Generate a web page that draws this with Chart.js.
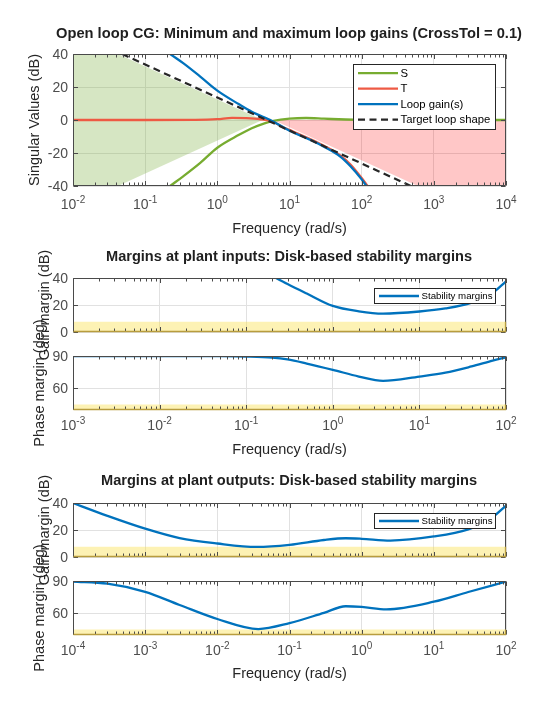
<!DOCTYPE html>
<html>
<head>
<meta charset="utf-8">
<script src="https://cdn.jsdelivr.net/npm/chart.js"></script>
<style>
  body { margin: 0; background: #fff; }
  #fig { position: relative; width: 560px; height: 714px; }
  #fig canvas { position: absolute; left: 0; top: 0; }
</style>
</head>
<body>
<div id="fig">
  <canvas id="loopCG" width="560" height="714"></canvas>
  <canvas id="inGain" width="560" height="714"></canvas>
  <canvas id="inPhase" width="560" height="714"></canvas>
  <canvas id="outGain" width="560" height="714"></canvas>
  <canvas id="outPhase" width="560" height="714"></canvas>
</div>
<script>
// ---- open loop CG: singular values ----
const loopFreqTicks = [1e-2, 1e-1, 1e0, 1e1, 1e2, 1e3, 1e4];
const loopDbTicks = [-40, -20, 0, 20, 40];

// shaded regions: minimum gain (green) and maximum gain (red)
const minGainFreq = [0.01, 0.01, 0.042, 4.2, 0.042];
const minGainDb = [-40, 40, 40, 0, -40];
const maxGainFreq = [6, 1e4, 1e4, 600];
const maxGainDb = [0, 0, -40, -40];

const sFreq = [0.18, 0.222, 0.34, 0.58, 1, 2, 3, 4.5, 6, 10, 17, 30, 60, 100, 300, 1e4];
const sDb = [-43, -40, -34, -26, -16.8, -9, -5, -2, -0.5, 0.8, 1.2, 0.8, 0.3, 0.1, 0, 0];

const tFreq = [0.01, 0.1, 0.5, 1, 1.6, 2.5, 4, 5.75, 8, 10, 20, 30, 50, 70, 100, 130];
const tDb = [0, 0, 0.1, 0.5, 1.3, 1.1, 0.4, -0.8, -4.2, -6, -11.8, -15.6, -21.3, -27, -35.2, -42];

const loopFreq = [0.18, 0.222, 0.34, 0.58, 1, 2, 3, 5.75, 10, 20, 30, 50, 70, 100, 130];
const loopDb = [43, 40, 34.3, 26.3, 17.8, 9.5, 5, -0.6, -6.5, -12.3, -16.2, -22, -28, -36, -43];

const targetFreq = [0.048, 480];
const targetDb = [40, -40];

// ---- margins (shared) ----
const gainRange = [0, 40];
const gainTicks = [0, 20, 40];
const phaseRange = [40, 90];
const phaseTicks = [60, 90];
const minGmDb = [7.6, 7.6];
const minPmDeg = [45, 45];

// ---- margins at plant inputs ----
const inFreqTicks = [1e-3, 1e-2, 1e-1, 1e0, 1e1, 1e2];
const inGmFreq = [0.17, 0.221, 0.3, 0.5, 1, 2, 3.8, 10, 20, 40, 70, 100];
const inGmDb = [44, 40, 35.5, 28.5, 19.3, 15.3, 13.6, 15.2, 17.5, 21.8, 29, 37.5];
const inPmFreq = [0.001, 0.01, 0.05, 0.1, 0.2, 0.3, 0.5, 1, 2, 3.8, 10, 20, 40, 70, 100];
const inPmDeg = [89.9, 89.9, 89.8, 89.5, 88.5, 86.8, 83, 77.2, 71, 67, 71, 74.5, 80.3, 85.7, 88.8];

// ---- margins at plant outputs ----
const outFreqTicks = [1e-4, 1e-3, 1e-2, 1e-1, 1e0, 1e1, 1e2];
const outGmFreq = [1e-4, 3e-4, 1e-3, 3e-3, 0.01, 0.035, 0.1, 0.3, 0.6, 1, 2.5, 10, 30, 60, 100];
const outGmDb = [40, 30.5, 21, 14, 10, 7.5, 9, 12.6, 13.9, 13.5, 12.2, 15.2, 20.5, 28, 38];
const outPmFreq = [1e-4, 3e-4, 1e-3, 3e-3, 0.01, 0.037, 0.1, 0.3, 0.6, 1, 2.2, 10, 30, 100];
const outPmDeg = [89.5, 87.5, 80, 67.8, 54.8, 45.5, 51, 60.5, 66.6, 66, 63.8, 70.8, 79.8, 89.4];

const W = 560, H = 714;
const FONT = '"Liberation Sans", Arial, Helvetica, sans-serif';
const AXIS = '#4a4a4a';
const BLUE = '#0072bd';

const pts = (xs, ys) => xs.map((x, i) => ({x: x, y: ys[i]}));

function text(ctx, str, x, y, s) {
  ctx.save();
  ctx.font = s.font;
  ctx.fillStyle = s.color || '#262626';
  ctx.textAlign = s.align || 'center';
  ctx.textBaseline = s.baseline || 'alphabetic';
  ctx.translate(x, y);
  if (s.rot) ctx.rotate(s.rot);
  if (s.width) ctx.scale(s.width / ctx.measureText(str).width, 1);
  ctx.fillText(str, 0, 0);
  ctx.restore();
}

// box, inner tick marks, legend and all axis texts
const decor = {
  id: 'decor',
  afterDatasetsDraw(chart, args, o) {
    const {ctx, chartArea: a, scales: {x, y}} = chart;
    const L = a.left + 0.5, R = a.right - 0.5, T = a.top + 0.5, B = a.bottom - 0.5;
    ctx.save();
    ctx.strokeStyle = AXIS;
    ctx.lineWidth = 1;
    ctx.beginPath();
    const d0 = Math.floor(Math.log10(x.min)), d1 = Math.ceil(Math.log10(x.max));
    for (let d = d0; d <= d1; d++) {
      for (let k = 1; k <= 9; k++) {
        const v = k * Math.pow(10, d);
        if (v < x.min * 0.999 || v > x.max * 1.001) continue;
        const px = Math.round(x.getPixelForValue(v)) + 0.5;
        const len = k === 1 ? 4.5 : 3;
        ctx.moveTo(px, B); ctx.lineTo(px, B - len);
        ctx.moveTo(px, T); ctx.lineTo(px, T + len);
      }
    }
    y.ticks.forEach(t => {
      const py = Math.round(y.getPixelForValue(t.value)) + 0.5;
      ctx.moveTo(L, py); ctx.lineTo(L + 4.5, py);
      ctx.moveTo(R, py); ctx.lineTo(R - 4.5, py);
    });
    ctx.rect(L, T, R - L, B - T);
    ctx.stroke();

    if (o.band !== undefined) {
      const bt = y.getPixelForValue(o.band);
      ctx.strokeStyle = '#b89d3e';
      ctx.lineWidth = 1.3;
      ctx.beginPath();
      ctx.moveTo(L, B); ctx.lineTo(R, B); ctx.lineTo(R, bt);
      ctx.stroke();
    }

    if (o.legend) {
      const lg = o.legend;
      const bx = Math.round(a.right - 10.7 - lg.w) + 0.5, by = Math.round(a.top + 10.3) + 0.5;
      ctx.fillStyle = '#fff';
      ctx.fillRect(bx, by, lg.w, lg.h);
      ctx.strokeStyle = '#262626';
      ctx.lineWidth = 1;
      ctx.strokeRect(bx, by, lg.w, lg.h);
      chart.data.datasets.filter(d => d.label).forEach((d, i) => {
        const yy = by + lg.first + i * lg.row;
        ctx.beginPath();
        ctx.setLineDash(d.borderDash || []);
        ctx.strokeStyle = d.borderColor;
        ctx.lineWidth = d.borderWidth;
        ctx.moveTo(bx + 4.5, yy); ctx.lineTo(bx + 44.5, yy);
        ctx.stroke();
        ctx.setLineDash([]);
        text(ctx, d.label, bx + 47, yy + 0.5, {font: lg.font + 'px ' + FONT, color: '#000', align: 'left', baseline: 'middle'});
      });
    }
    ctx.restore();
  },
  afterDraw(chart, args, o) {
    const {ctx, chartArea: a, scales: {x, y}} = chart;
    const cx = (a.left + a.right) / 2, cy = (a.top + a.bottom) / 2;
    y.ticks.forEach(t => {
      text(ctx, String(t.value), a.left - 5, y.getPixelForValue(t.value) + 1,
        {font: '14px ' + FONT, color: '#4d4d4d', align: 'right', baseline: 'middle'});
    });
    if (o.tickBase) {
      x.ticks.forEach(t => {
        const px = x.getPixelForValue(t.value);
        const e = String(Math.round(Math.log10(t.value)));
        ctx.font = '14px ' + FONT;
        const wb = ctx.measureText('10').width;
        ctx.font = '10px ' + FONT;
        const we = ctx.measureText(e).width;
        const s = px - (wb + we) / 2;
        text(ctx, '10', s, o.tickBase, {font: '14px ' + FONT, color: '#4d4d4d', align: 'left'});
        text(ctx, e, s + wb, o.tickBase - 6.5, {font: '10px ' + FONT, color: '#4d4d4d', align: 'left'});
      });
    }
    if (o.xTitle) text(ctx, 'Frequency (rad/s)', cx, o.xTitle, {font: '14.5px ' + FONT, color: '#262626'});
    if (o.yTitle) text(ctx, o.yTitle.text, o.yTitle.x, cy, {font: '14.5px ' + FONT, color: '#262626', rot: -Math.PI / 2});
    if (o.title) text(ctx, o.title.text, 289, o.title.y, {font: 'bold 14px ' + FONT, color: '#1f1f1f', width: o.title.width});
  }
};

function axesChart(id, box, xTicks, yRange, yTicks, datasets, deco) {
  const grid = {color: '#e1e1e1', lineWidth: 1, drawTicks: false};
  return new Chart(document.getElementById(id), {
    type: 'line',
    data: {datasets: datasets},
    options: {
      responsive: false,
      animation: false,
      events: [],
      layout: {autoPadding: false, padding: {left: box[0], top: box[1], right: W - box[2], bottom: H - box[3]}},
      elements: {point: {radius: 0}},
      plugins: {legend: {display: false}, tooltip: {enabled: false}, decor: deco},
      scales: {
        x: {
          type: 'logarithmic', min: xTicks[0], max: xTicks[xTicks.length - 1],
          afterBuildTicks: s => { s.ticks = xTicks.map(v => ({value: v})); },
          ticks: {display: false}, border: {display: false}, grid: grid
        },
        y: {
          type: 'linear', min: yRange[0], max: yRange[1],
          afterBuildTicks: s => { s.ticks = yTicks.map(v => ({value: v})); },
          ticks: {display: false}, border: {display: false}, grid: grid
        }
      }
    },
    plugins: [decor]
  });
}

function curve(label, xs, ys, color, order, extra) {
  return Object.assign({
    label: label, data: pts(xs, ys), borderColor: color, borderWidth: 2.3,
    cubicInterpolationMode: 'monotone', fill: false, order: order
  }, extra || {});
}

function region(xs, ys, color, order) {
  return {data: pts(xs, ys), borderWidth: 0, borderColor: 'rgba(0,0,0,0)', backgroundColor: color,
    fill: 'shape', tension: 0, order: order};
}

function band(xTicks, ys, order) {
  return {data: pts([xTicks[0], xTicks[xTicks.length - 1]], ys), borderWidth: 0, borderColor: 'rgba(0,0,0,0)',
    backgroundColor: 'rgba(250,222,68,0.4)', fill: 'start', tension: 0, order: order};
}

// top axes
axesChart('loopCG', [73, 54, 506, 186], loopFreqTicks, [-40, 40], loopDbTicks, [
  region(minGainFreq, minGainDb, 'rgba(118,172,55,0.3)', 6),
  region(maxGainFreq, maxGainDb, 'rgba(255,0,0,0.22)', 5),
  curve('S', sFreq, sDb, '#77ac30', 4),
  curve('T', tFreq, tDb, '#ee5a44', 3),
  curve('Loop gain(s)', loopFreq, loopDb, BLUE, 2),
  curve('Target loop shape', targetFreq, targetDb, '#262626', 1, {borderDash: [7, 4.5], borderWidth: 2.2, cubicInterpolationMode: 'default', tension: 0})
], {
  legend: {w: 142, h: 65, first: 8.7, row: 15.5, font: 11.3},
  title: {text: 'Open loop CG: Minimum and maximum loop gains (CrossTol = 0.1)', y: 37.5, width: 466},
  yTitle: {text: 'Singular Values (dB)', x: 39},
  tickBase: 209, xTitle: 232.5
});

// margins at plant inputs
axesChart('inGain', [73, 278, 506, 332], inFreqTicks, gainRange, gainTicks, [
  band(inFreqTicks, minGmDb, 2),
  curve('Stability margins', inGmFreq, inGmDb, BLUE, 1)
], {
  band: minGmDb[0],
  legend: {w: 121, h: 15, first: 7.5, row: 15, font: 9.7},
  title: {text: 'Margins at plant inputs: Disk-based stability margins', y: 261, width: 366},
  yTitle: {text: 'Gain margin (dB)', x: 49}
});
axesChart('inPhase', [73, 356, 506, 410], inFreqTicks, phaseRange, phaseTicks, [
  band(inFreqTicks, minPmDeg, 2),
  curve('Stability margins', inPmFreq, inPmDeg, BLUE, 1)
], {
  band: minPmDeg[0],
  yTitle: {text: 'Phase margin (deg)', x: 44},
  tickBase: 430, xTitle: 453.5
});

// margins at plant outputs
axesChart('outGain', [73, 503, 506, 557], outFreqTicks, gainRange, gainTicks, [
  band(outFreqTicks, minGmDb, 2),
  curve('Stability margins', outGmFreq, outGmDb, BLUE, 1)
], {
  band: minGmDb[0],
  legend: {w: 121, h: 15, first: 7.5, row: 15, font: 9.7},
  title: {text: 'Margins at plant outputs: Disk-based stability margins', y: 485, width: 376},
  yTitle: {text: 'Gain margin (dB)', x: 49}
});
axesChart('outPhase', [73, 581, 506, 635], outFreqTicks, phaseRange, phaseTicks, [
  band(outFreqTicks, minPmDeg, 2),
  curve('Stability margins', outPmFreq, outPmDeg, BLUE, 1)
], {
  band: minPmDeg[0],
  yTitle: {text: 'Phase margin (deg)', x: 44},
  tickBase: 655, xTitle: 677.5
});
</script>
</body>
</html>
